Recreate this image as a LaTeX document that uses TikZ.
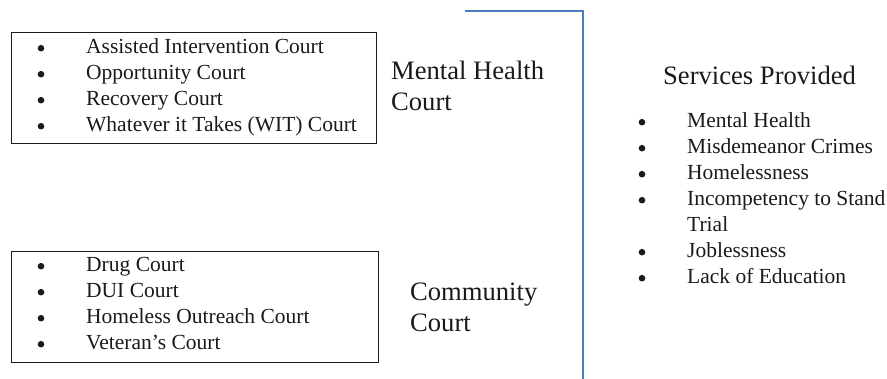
\documentclass[tikz,border=0pt]{standalone}
\usepackage{fontspec}
\setmainfont{Liberation Serif}
\definecolor{inkc}{HTML}{1A1A1A}
\definecolor{rulec}{HTML}{4A7EBB}
\tikzset{
  listbox/.style={draw=inkc, line width=1.2pt, rectangle, inner sep=0pt, anchor=north west},
  item/.style={anchor=base west, inner sep=0pt, text=inkc, font=\fontsize{21.5}{26}\selectfont},
  heading/.style={anchor=base west, inner sep=0pt, text=inkc, align=left, font=\fontsize{26.6}{31}\selectfont},
  divider/.style={draw=rulec, line width=1.8pt},
  dot/.style={fill=inkc}
}
% round list marker to the left of an item
\newcommand{\marker}[1]{\fill[dot] ([xshift=-45pt, yshift=5.8pt]#1.base west) circle (3.3pt);}
\begin{document}
\begin{tikzpicture}[x=1pt, y=-1pt]
  \useasboundingbox (0,0) rectangle (887,379);

  % court boxes
  \node[listbox, minimum width=365pt, minimum height=111pt] (box1) at (11,32) {};
  \node[listbox, minimum width=367pt, minimum height=111pt] (box2) at (11,251) {};

  % mental health court programmes
  \foreach \t [count=\i] in {Assisted Intervention Court, Opportunity Court, Recovery Court, Whatever it Takes (WIT) Court}{
    \node[item] (mh\i) at (86, 28+26*\i) {\t};
    \marker{mh\i}
  }

  % community court programmes
  \foreach \t [count=\i] in {Drug Court, DUI Court, Homeless Outreach Court, Veteran’s Court}{
    \node[item] (cc\i) at (86, 246+26*\i) {\t};
    \marker{cc\i}
  }

  % court labels (base anchor sits on the last line)
  \node[heading] (mhlabel) at (391,111) {Mental Health\\Court};
  \node[heading] (cclabel) at (410,332) {Community\\Court};

  % divider
  \coordinate (d0) at (465,11);
  \coordinate (d1) at (583,11);
  \coordinate (d2) at (583,380);
  \draw[divider] (d0) -- (d1) -- (d2);

  % services
  \node[heading] (svc) at (663,85) {Services Provided};
  \node[item] (s1) at (687,128) {Mental Health};
  \node[item] (s2) at (687,154) {Misdemeanor Crimes};
  \node[item] (s3) at (687,180) {Homelessness};
  \node[item] (s4) at (687,206) {Incompetency to Stand};
  \node[item] (s4b) at (687,232) {Trial};
  \node[item] (s5) at (687,258) {Joblessness};
  \node[item] (s6) at (687,284) {Lack of Education};
  \foreach \n in {s1,s2,s3,s4,s5,s6}{
    \marker{\n}
  }
\end{tikzpicture}
\end{document}
